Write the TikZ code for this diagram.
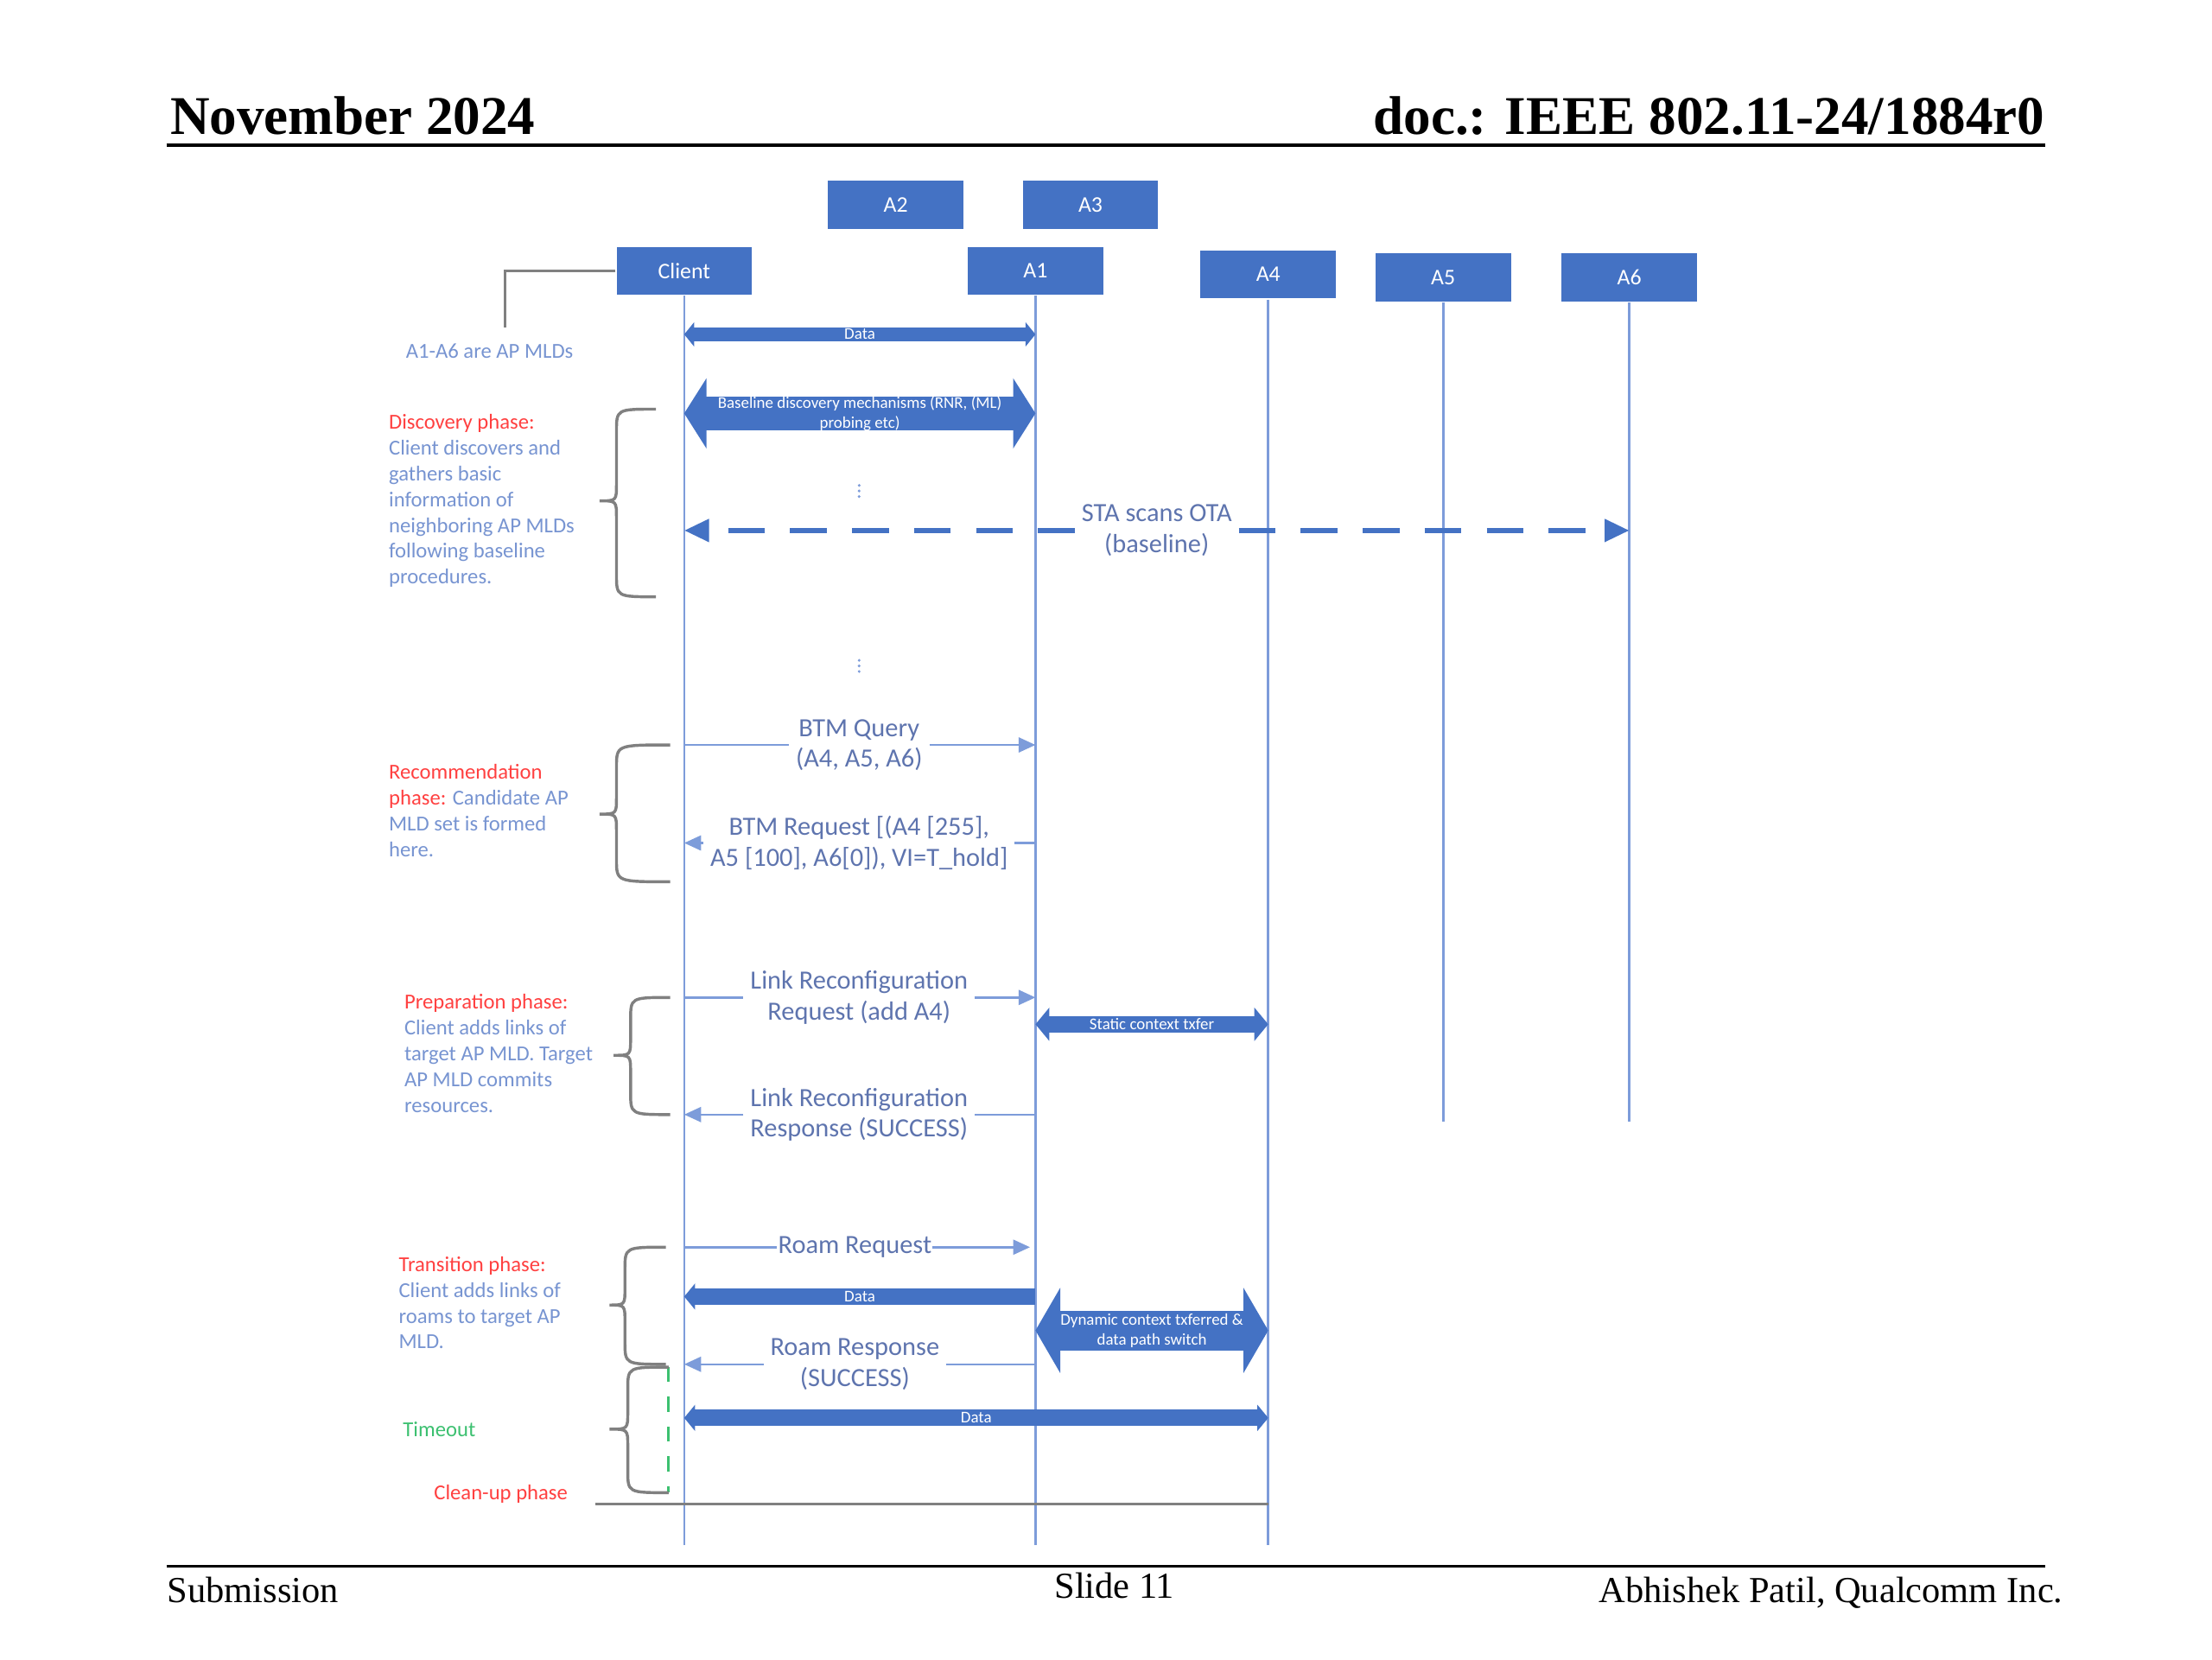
\documentclass[tikz,border=0pt]{standalone}
\usepackage{fontspec}
\setmainfont{Carlito}
\newfontfamily\slidefont{Liberation Serif}
\usetikzlibrary{arrows.meta,positioning}

\definecolor{boxblue}{HTML}{4472C4}
\definecolor{lifeblue}{HTML}{7D9CDA}
\definecolor{msgblue}{HTML}{5E74AE}
\definecolor{notered}{HTML}{FF4040}
\definecolor{notegreen}{HTML}{3CC070}
\definecolor{bracegrey}{HTML}{808080}

% curly brace: end x, spine x, tip x, top y, tip y, bottom y
\newcommand{\phasebrace}[6]{%
  \draw[bracestyle] (#1,#4) .. controls (#2,#4) .. (#2,#4+16)
    -- (#2,#5-12) .. controls (#2,#5) .. (#3,#5)
    .. controls (#2,#5) .. (#2,#5+12)
    -- (#2,#6-16) .. controls (#2,#6) .. (#1,#6);}

\begin{document}
\begin{tikzpicture}[x=0.1mm, y=-0.1mm,
    apbox/.style={fill=boxblue, text=white, minimum width=27.3pt, minimum height=9.7pt,
      inner sep=0pt, font=\fontsize{4.5}{5}\selectfont},
    life/.style={draw=lifeblue, line width=0.45pt},
    msg/.style={text=msgblue, align=center, inner xsep=1.2pt, inner ysep=0pt,
      font=\fontsize{5.3}{6.2}\selectfont},
    msgline/.style={draw=lifeblue, line width=0.45pt},
    msgtip/.style={-{Triangle[width=3pt,length=3.4pt]}},
    bandtxt/.style={text=white, align=center, inner sep=0pt, font=\fontsize{3.3}{4}\selectfont},
    phasetxt/.style={text=lifeblue!80!msgblue, align=left, anchor=north west, inner sep=0pt,
      font=\fontsize{4.3}{5.2}\selectfont},
    bracestyle/.style={draw=bracegrey, line width=0.6pt},
    slidetxt/.style={inner sep=0pt, font=\slidefont\fontsize{7.4}{8}\selectfont},
    dotsmark/.style={minimum size=4.5pt, inner sep=0pt},
  ]
  \useasboundingbox (0,0) rectangle (1568,1176);

  % slide frame
  \node[slidetxt, anchor=base west, font=\slidefont\bfseries\fontsize{11}{12}\selectfont] (month) at (120,95) {November 2024};
  \node[slidetxt, anchor=base east, font=\slidefont\bfseries\fontsize{11}{12}\selectfont] (docnum) at (1450,95) {doc.: IEEE 802.11-24/1884r0};
  \draw[line width=0.6pt] (118,103) -- (1450,103);
  \draw[line width=0.6pt] (118,1110) -- (1450,1110);
  \node[slidetxt, anchor=base west] (submission) at (118,1136) {Submission};
  \node[slidetxt, anchor=base] (slideno) at (790,1133) {Slide 11};
  \node[slidetxt, anchor=base east] (author) at (1463,1136) {Abhishek Patil, Qualcomm Inc.};

  % entities
  \node[apbox] (a2) at (635,145) {A2};
  \node[apbox] (a3) at (773,145) {A3};
  \node[apbox] (client) at (485,192) {Client};
  \node[apbox] (a1) at (734,192) {A1};
  \node[apbox] (a4) at (899,194.5) {A4};
  \node[apbox] (a5) at (1023,196.5) {A5};
  \node[apbox] (a6) at (1155,196.5) {A6};

  \coordinate (longEnd) at (0,1095);
  \coordinate (shortEnd) at (0,795);
  \draw[life] (client) -- (client |- longEnd);
  \draw[life] (a1) -- (a1 |- longEnd);
  \draw[life] (a4) -- (a4 |- longEnd);
  \draw[life] (a5) -- (a5 |- shortEnd);
  \draw[life] (a6) -- (a6 |- shortEnd);

  % note on the client box
  \node[phasetxt, anchor=center] (mlds) at (347,249) {A1-A6 are AP MLDs};
  \coordinate (noteEnd) at (358,232);
  \draw[bracestyle] (client.west) -| (noteEnd);

  % discovery phase
  \draw[draw=boxblue, line width=2.9pt, {Triangle[width=4.8pt,length=2pt]}-{Triangle[width=4.8pt,length=2pt]}]
    (client |- 0,237) -- node[bandtxt] (dataA) {Data} (a1 |- 0,237);
  \draw[draw=boxblue, line width=6.8pt, {Triangle[width=14pt,length=4.5pt]}-{Triangle[width=14pt,length=4.5pt]}]
    (client |- 0,293) -- node[bandtxt] (baseline) {Baseline discovery mechanisms (RNR, (ML)\\probing etc)} (a1 |- 0,293);
  \node[dotsmark] (dotsA) at (609,348) {};
  \foreach \dy in {-4,0,4}
    \fill[lifeblue] ([yshift=\dy*0.28pt]dotsA.center) circle (0.3pt);
  \node[msg] (sta) at (820,376) {STA scans OTA\\(baseline)};
  \draw[draw=boxblue, line width=1.1pt, dash pattern=on 7.4pt off 5.1pt, -{Triangle[width=4.4pt,length=5pt]}]
    (sta.west) -- (client |- sta);
  \draw[draw=boxblue, line width=1.1pt, dash pattern=on 7.4pt off 5.1pt, -{Triangle[width=4.4pt,length=5pt]}]
    (sta.east) -- (a6 |- sta);
  \node[dotsmark] (dotsB) at (609,472) {};
  \foreach \dy in {-4,0,4}
    \fill[lifeblue] ([yshift=\dy*0.28pt]dotsB.center) circle (0.3pt);

  % recommendation phase
  \node[msg] (btmq) at (609,528) {BTM Query\\(A4, A5, A6)};
  \draw[msgline] (client |- btmq) -- (btmq.west);
  \draw[msgline, msgtip] (btmq.east) -- (a1 |- btmq);
  \node[msg] (btmr) at (609,597.5) {BTM Request [(A4 [255],\\A5 [100], A6[0]), VI=T\_hold]};
  \draw[msgline] (a1 |- btmr) -- (btmr.east);
  \draw[msgline, msgtip] (btmr.west) -- (client |- btmr);

  % preparation phase
  \node[msg] (lrreq) at (609,707) {Link Reconfiguration\\Request (add A4)};
  \draw[msgline] (client |- lrreq) -- (lrreq.west);
  \draw[msgline, msgtip] (lrreq.east) -- (a1 |- lrreq);
  \draw[draw=boxblue, line width=3.3pt, {Triangle[width=6.6pt,length=2.8pt]}-{Triangle[width=6.6pt,length=2.8pt]}]
    (a1 |- 0,726) -- node[bandtxt] (static) {Static context txfer} (a4 |- 0,726);
  \node[msg] (lrresp) at (609,790) {Link Reconfiguration\\Response (SUCCESS)};
  \draw[msgline] (a1 |- lrresp) -- (lrresp.east);
  \draw[msgline, msgtip] (lrresp.west) -- (client |- lrresp);

  % transition phase
  \node[msg, inner xsep=0pt] (roamreq) at (606,884) {Roam Request};
  \draw[msgline] (client |- roamreq) -- (roamreq.west);
  \draw[msgline, msgtip] (roamreq.east) -- ([xshift=-1.1pt]a1 |- roamreq);
  \draw[draw=boxblue, line width=3.3pt, {Triangle[width=5.2pt,length=2.2pt]}-]
    (client |- 0,919) -- node[bandtxt] (dataB) {Data} (a1 |- 0,919);
  \draw[draw=boxblue, line width=8pt, {Triangle[width=17pt,length=5pt]}-{Triangle[width=17pt,length=5pt]}]
    (a1 |- 0,943) -- node[bandtxt] (dynamic) {Dynamic context txferred \&\\data path switch} (a4 |- 0,943);
  \node[msg] (roamresp) at (606,967) {Roam Response\\(SUCCESS)};
  \draw[msgline] (a1 |- roamresp) -- (roamresp.east);
  \draw[msgline, msgtip] (roamresp.west) -- (client |- roamresp);
  \draw[draw=boxblue, line width=3.3pt, {Triangle[width=5.2pt,length=2.2pt]}-{Triangle[width=5.2pt,length=2.2pt]}]
    (client |- 0,1005) -- node[bandtxt] (dataC) {Data} (a4 |- 0,1005);

  % clean-up
  \coordinate (cleanStart) at (422,1066);
  \draw[bracestyle] (cleanStart) -- (a4 |- cleanStart);
  \draw[draw=notegreen, line width=0.5pt, dashed] (474,969) -- (474,1058);

  % phase braces
  \phasebrace{465}{437}{425}{290}{355}{423}
  \phasebrace{475}{437}{425}{528}{577}{625}
  \phasebrace{475}{447}{435}{707}{748}{790}
  \phasebrace{472}{443}{432}{884}{925}{967}
  \phasebrace{474}{445}{432}{969}{1013}{1058}

  % phase notes
  \node[phasetxt] (discovery) at (275,293) {{\color{notered}Discovery phase:}\\Client discovers and\\gathers basic\\information of\\neighboring AP MLDs\\following baseline\\procedures.};
  \node[phasetxt] (recommend) at (275,541) {{\color{notered}Recommendation}\\{\color{notered}phase:} Candidate AP\\MLD set is formed\\here.};
  \node[phasetxt] (prepare) at (286,704) {{\color{notered}Preparation phase:}\\Client adds links of\\target AP MLD. Target\\AP MLD commits\\resources.};
  \node[phasetxt] (transit) at (282,890) {{\color{notered}Transition phase:}\\Client adds links of\\roams to target AP\\MLD.};
  \node[phasetxt, anchor=west, text=notegreen] (timeout) at (285,1013) {Timeout};
  \node[phasetxt, anchor=west, text=notered] (cleanup) at (307,1059) {Clean-up phase};
\end{tikzpicture}
\end{document}
